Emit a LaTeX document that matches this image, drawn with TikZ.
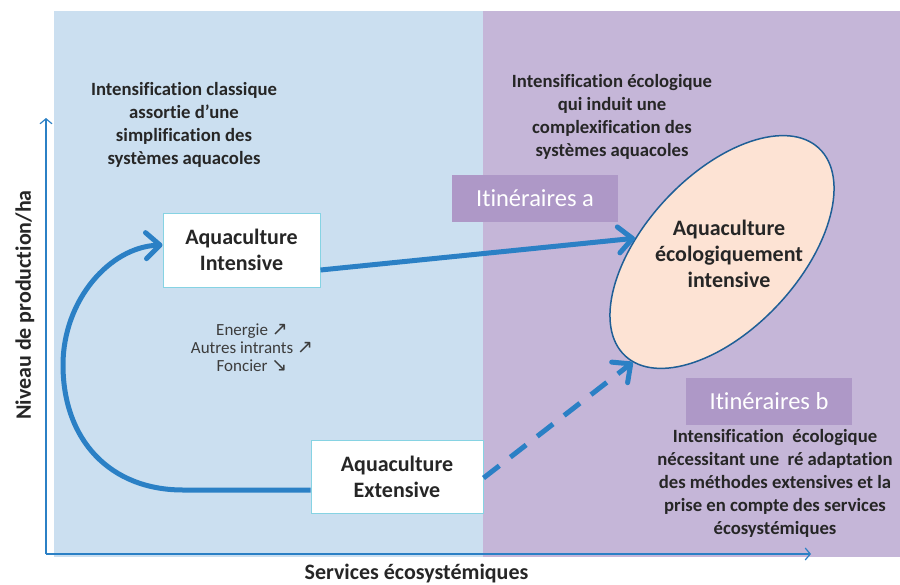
\documentclass[tikz,border=0pt]{standalone}
\usepackage{fontspec}
\setmainfont{Carlito}[Ligatures=NoCommon]
\newfontfamily\symfont{DejaVu Sans}
\usetikzlibrary{arrows.meta,shapes.geometric,calc}
\definecolor{bgblue}{HTML}{CBDFF0}
\definecolor{bgpurple}{HTML}{C5B6D8}
\definecolor{itincol}{HTML}{AE98C7}
\definecolor{arrowblue}{HTML}{2B80C5}
\definecolor{boxedge}{HTML}{86D3E3}
\definecolor{peach}{HTML}{FDE3D4}
\definecolor{elledge}{HTML}{1F5F96}
\definecolor{txt}{HTML}{262626}
\newcommand{\arr}[1]{{\symfont\fontsize{19}{18}\selectfont #1}}
\begin{document}
\begin{tikzpicture}[x=1pt,y=-1pt,
  every node/.style={text=txt},
  boldtext/.style={font=\bfseries\fontsize{18.7}{23}\selectfont, align=center, inner sep=0pt},
  stage/.style={draw=boxedge, line width=1pt, fill=white, align=center,
    font=\bfseries\fontsize{22}{26}\selectfont, inner sep=0pt},
  itin/.style={fill=itincol, text=white, font=\fontsize{24.5}{28}\selectfont,
    inner sep=0pt, minimum width=166pt, minimum height=47pt},
  flow/.style={draw=arrowblue, line width=5pt, -{Straight Barb[length=14pt,width=26pt,round]}},
  axisline/.style={draw=arrowblue, line width=1.2pt, -{Straight Barb[length=5pt,width=12pt]}}]
\useasboundingbox (0,0) rectangle (900,584);
% backgrounds
\fill[bgblue] (54,11) rectangle (483,557);
\fill[bgpurple] (483,11) rectangle (900,557);
% axes
\coordinate (origin) at (46,554);
\coordinate (ytop) at (46,118);
\coordinate (xend) at (811,554);
\draw[axisline] (origin) -- (ytop);
\draw[axisline] (origin) -- (xend);
\node[font=\bfseries\fontsize{22}{26}\selectfont, rotate=90, inner sep=0pt] (ylab) at (25,305) {Niveau de production/ha};
\node[font=\bfseries\fontsize{22}{26}\selectfont, anchor=base, inner sep=0pt] (xlab) at (416.5,579) {Services écosystémiques};
% texts
\node[boldtext] (tl) at (184,125) {Intensification classique\\assortie d’une\\simplification des\\systèmes aquacoles};
\node[boldtext] (tr) at (612,116.5) {Intensification écologique\\qui induit une\\complexification des\\systèmes aquacoles};
\node[boldtext] (br) at (775,483.5) {Intensification\ \ écologique\\nécessitant une\ \ ré adaptation\\des méthodes extensives et la\\prise en compte des services\\écosystémiques};
\node[font=\fontsize{17}{18}\selectfont, align=center, inner sep=0pt, text=txt!90] (energie) at (252,348) {Energie \arr{↗}\\Autres intrants \arr{↗}\\Foncier \arr{↘}};
% boxes
\node[stage, minimum width=157pt, minimum height=74pt] (int) at (241.5,250) {Aquaculture\\Intensive};
\node[stage, minimum width=172pt, minimum height=73pt] (ext) at (397,476.5) {Aquaculture\\Extensive};
\node[itin] (ita) at (535,198.5) {Itinéraires a};
\node[itin] (itb) at (769,401.5) {Itinéraires b};
% ellipse
\node[ellipse, draw=elledge, line width=1.5pt, fill=peach, minimum width=284pt, minimum height=154pt, rotate=47, inner sep=0pt] (eco) at (722,252) {};
\node[font=\bfseries\fontsize{22}{26}\selectfont, align=center, inner sep=0pt] (ecotext) at (729,254) {Aquaculture\\écologiquement\\intensive};
% connectors
\draw[flow] ($(int.east)+(0,20)$) -- (eco.124);
\draw[flow] ($(ext.west)+(0,13.5)$) -- (183,490) .. controls (110,490) and (63,440) .. (63,365) .. controls (63,300) and (110,247) .. ($(int.west)+(0,-5)$);
\draw[flow, dash pattern=on 20pt off 14pt] ($(ext.east)+(0,1.5)$) -- (eco.184);
\end{tikzpicture}
\end{document}
